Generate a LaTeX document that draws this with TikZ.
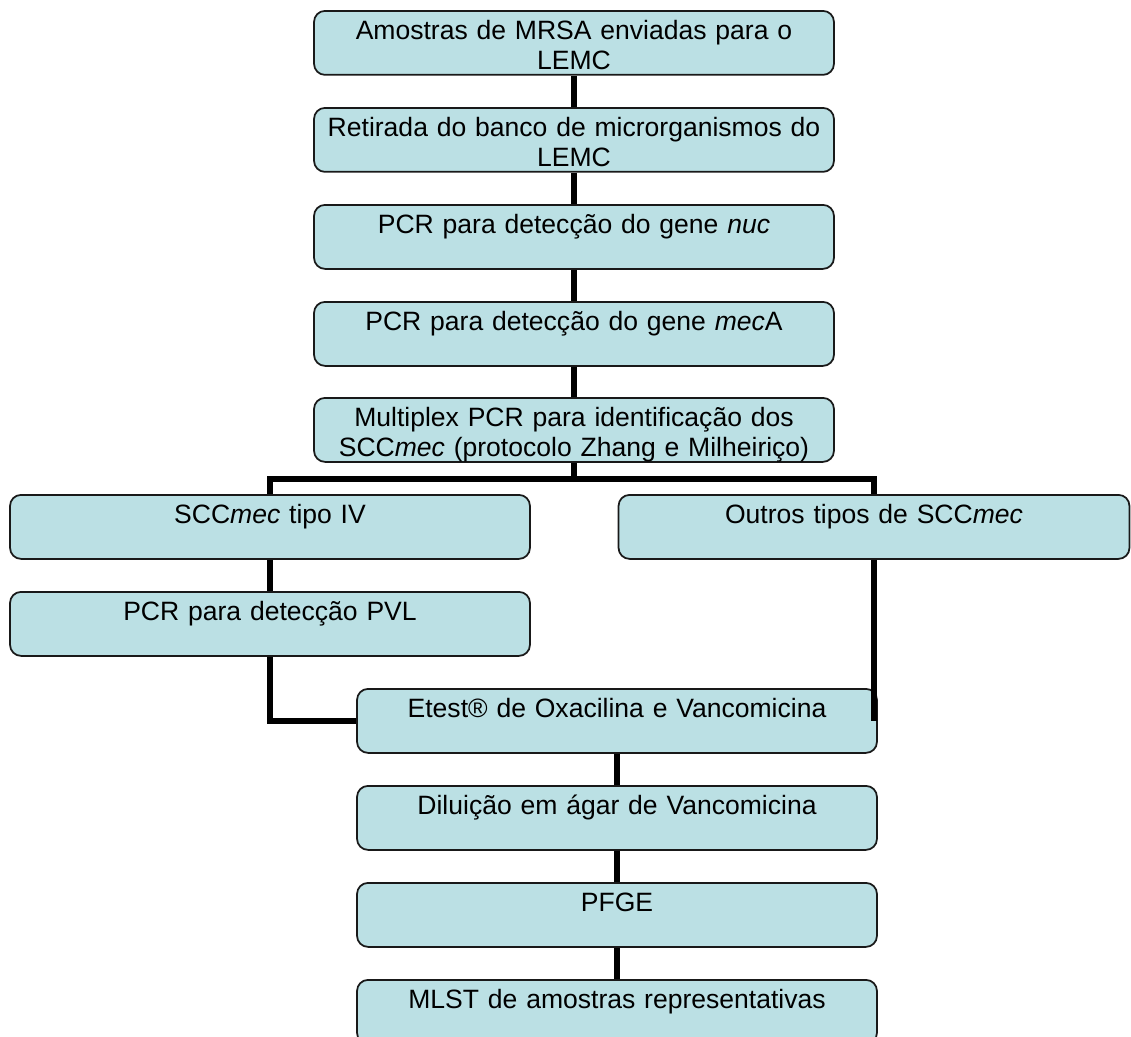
\documentclass[tikz,border=0pt]{standalone}
\usepackage{fontspec}
\setmainfont{Liberation Sans}
\definecolor{boxblue}{RGB}{187,224,228}
\begin{document}
\begin{tikzpicture}[x = 0.02cm, y = -0.02cm,
        stepbox/.style = {draw = black!90, line width = 0.035cm, fill = boxblue,
            rounded corners = 0.22cm, anchor = north, inner xsep = 0.05cm, inner ysep = 0pt,
            text width = 10.3cm, align = center, text height = 0.58cm, text depth = 0.70cm,
            font = \fontsize{15.1pt}{17.1pt}\selectfont},
        link/.style = {line width = 0.12cm}]
    \useasboundingbox (0, 0) rectangle (1131, 1036);
    \node [stepbox] (amostras) at (574, 10) {Amostras de MRSA enviadas para o\\LEMC};
    \node [stepbox] (banco) at (574, 107) {Retirada do banco de microrganismos do\\LEMC};
    \node [stepbox] (nuc) at (574, 204) {PCR para detecção do gene \textit{nuc}};
    \node [stepbox] (meca) at (574, 301) {PCR para detecção do gene \textit{mec}A};
    \node [stepbox] (multiplex) at (574, 397) {Multiplex PCR para identificação dos\\SCC\textit{mec} (protocolo Zhang e Milheiriço)};
    \node [stepbox] (tipoiv) at (270, 494) {SCC\textit{mec} tipo IV};
    \node [stepbox, text width = 10.12cm] (outros) at (874, 494) {Outros tipos de SCC\textit{mec}};
    \node [stepbox] (pvl) at (270, 591) {PCR para detecção PVL};
    \node [stepbox] (etest) at (617, 688) {Etest® de Oxacilina e Vancomicina};
    \node [stepbox] (diluicao) at (617, 785) {Diluição em ágar de Vancomicina};
    \node [stepbox] (pfge) at (617, 882) {PFGE};
    \node [stepbox] (mlst) at (617, 979) {MLST de amostras representativas};
    \coordinate (fork) at (574, 479);
    \path [link, draw]
        (amostras.south) -- (banco.north)
        (banco.south) -- (nuc.north)
        (nuc.south) -- (meca.north)
        (meca.south) -- (multiplex.north)
        (multiplex.south) -- (fork)
        (tipoiv.north) -- (tipoiv.north |- fork) -- (outros.north |- fork) -- (outros.north)
        (tipoiv.south) -- (pvl.north)
        (pvl.south) |- (etest.west)
        (outros.south) -- (outros.south |- etest.east)
        (etest.south) -- (diluicao.north)
        (diluicao.south) -- (pfge.north)
        (pfge.south) -- (mlst.north);
\end{tikzpicture}
\end{document}
